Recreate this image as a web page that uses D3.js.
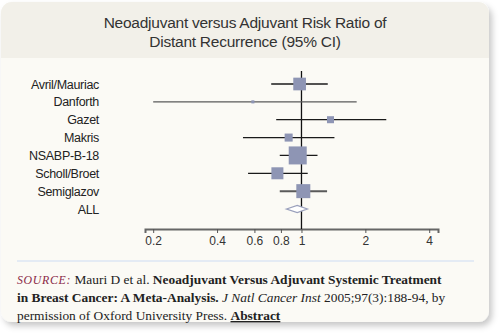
<!DOCTYPE html>
<html>
<head>
<meta charset="utf-8">
<script src="https://cdn.jsdelivr.net/npm/d3@7"></script>
<style>
  html, body { margin: 0; padding: 0; background: #ffffff; }
  svg { display: block; }
</style>
</head>
<body>
<svg width="500" height="334"></svg>
<script>
// Studies, risk ratios with 95% CI, and study weights (%)
const studies = ["Avril/Mauriac", "Danforth", "Gazet", "Makris", "NSABP-B-18", "Scholl/Broet", "Semiglazov"];
const rr      = [0.98, 0.59, 1.37, 0.87, 0.96, 0.77, 1.02];
const lower   = [0.72, 0.20, 0.76, 0.53, 0.79, 0.56, 0.79];
const upper   = [1.33, 1.82, 2.51, 1.43, 1.19, 1.07, 1.32];
const weight  = [17.0, 1.0, 5.2, 6.8, 34.2, 15.2, 20.7];

// Pooled estimate
const pooled = { label: "ALL", rr: 0.955, lower: 0.85, upper: 1.065 };

const tickValues = [0.2, 0.4, 0.6, 0.8, 1, 2, 4];
const titleLines = ["Neoadjuvant versus Adjuvant Risk Ratio of", "Distant Recurrence (95% CI)"];

const svg = d3.select("svg");

// Card with drop shadow
const defs = svg.append("defs");
const shadow = defs.append("filter").attr("id", "shadow")
  .attr("x", "-5%").attr("y", "-5%").attr("width", "115%").attr("height", "115%");
shadow.append("feDropShadow")
  .attr("dx", 3).attr("dy", 4).attr("stdDeviation", 3)
  .attr("flood-color", "#000").attr("flood-opacity", 0.22);

defs.append("clipPath").attr("id", "cardClip")
  .append("rect").attr("x", 1).attr("y", 2).attr("width", 488).attr("height", 320).attr("rx", 11);

svg.append("rect")
  .attr("x", 1).attr("y", 2).attr("width", 488).attr("height", 320).attr("rx", 11)
  .attr("fill", "#fbfaf5")
  .attr("filter", "url(#shadow)");

// Title band
svg.append("rect")
  .attr("clip-path", "url(#cardClip)")
  .attr("x", 0).attr("y", 0).attr("width", 490).attr("height", 58)
  .attr("fill", "#f2f0e9");

svg.append("g").selectAll("text")
  .data(titleLines)
  .join("text")
  .attr("x", 245)
  .attr("y", (d, i) => 28 + i * 19)
  .attr("text-anchor", "middle")
  .attr("font-family", "Liberation Sans, Arial, sans-serif")
  .attr("font-size", 15.5)
  .attr("letter-spacing", -0.25)
  .attr("fill", "#333")
  .text(d => d);

// Scales
const x = d3.scaleLog()
  .domain([0.183, 4.4])
  .range([145, 438]);

const rows = studies.concat([pooled.label]);
const y = d3.scalePoint()
  .domain(rows)
  .range([84, 209]);

const boxSize = d3.scaleSqrt()
  .domain([0, d3.max(weight)])
  .range([0, 18]);

// Axis
const axisY = 229;
const axis = svg.append("g")
  .attr("transform", `translate(0,${axisY})`)
  .call(d3.axisBottom(x).tickValues(tickValues).tickFormat(d3.format("")).tickSize(4).tickPadding(3));
axis.select(".domain").attr("stroke", "#666").attr("stroke-width", 2);
axis.selectAll(".tick line").attr("stroke", "#555");
axis.selectAll(".tick text")
  .attr("font-family", "Liberation Sans, Arial, sans-serif")
  .attr("font-size", 12)
  .attr("fill", "#333");

// Line of no effect
svg.append("line")
  .attr("x1", x(1)).attr("x2", x(1))
  .attr("y1", 71).attr("y2", axisY)
  .attr("stroke", "#111").attr("stroke-width", 1.3);

// Row labels
svg.append("g").selectAll("text")
  .data(rows)
  .join("text")
  .attr("x", 99)
  .attr("y", d => y(d) + 4.5)
  .attr("text-anchor", "end")
  .attr("font-family", "Liberation Sans, Arial, sans-serif")
  .attr("font-size", 12.5)
  .attr("letter-spacing", -0.3)
  .attr("fill", "#222")
  .text(d => d);

// Confidence intervals
const greyLines = ["Danforth", "Semiglazov"];
svg.append("g").selectAll("line")
  .data(studies)
  .join("line")
  .attr("x1", (d, i) => x(lower[i]))
  .attr("x2", (d, i) => x(upper[i]))
  .attr("y1", d => y(d))
  .attr("y2", d => y(d))
  .attr("stroke", d => greyLines.includes(d) ? "#5a5a5a" : "#1a1a1a")
  .attr("stroke-width", d => d === "Semiglazov" ? 2 : 1.3);

// Weighted point estimates
svg.append("g").selectAll("rect")
  .data(studies)
  .join("rect")
  .attr("x", (d, i) => x(rr[i]) - boxSize(weight[i]) / 2)
  .attr("y", (d, i) => y(d) - boxSize(weight[i]) / 2)
  .attr("width", (d, i) => boxSize(weight[i]))
  .attr("height", (d, i) => boxSize(weight[i]))
  .attr("fill", "#8e95b4");

// Pooled diamond
const py = y(pooled.label);
svg.append("path")
  .attr("d", `M${x(pooled.lower)},${py} L${x(pooled.rr)},${py - 3.5} L${x(pooled.upper)},${py} L${x(pooled.rr)},${py + 3.5} Z`)
  .attr("fill", "#fff")
  .attr("stroke", "#9aa0bc")
  .attr("stroke-width", 1.3);

// Separator
svg.append("line")
  .attr("x1", 17).attr("x2", 474)
  .attr("y1", 261).attr("y2", 261)
  .attr("stroke", "#dde6f3").attr("stroke-width", 1.3);

// Source note
const note = svg.append("text")
  .attr("font-family", "Liberation Serif, Times New Roman, serif")
  .attr("font-size", 13.4)
  .attr("fill", "#222");

const noteLines = [
  [
    { t: "SOURCE:", style: "italic", color: "#8a2846", size: 11.8, spacing: 0.7 },
    { t: " Mauri D et al. " },
    { t: "Neoadjuvant Versus Adjuvant Systemic Treatment", weight: "bold" }
  ],
  [
    { t: "in Breast Cancer: A Meta-Analysis.", weight: "bold" },
    { t: " " },
    { t: "J Natl Cancer Inst", style: "italic" },
    { t: " 2005;97(3):188-94, by" }
  ],
  [
    { t: "permission of Oxford University Press. " },
    { t: "Abstract", weight: "bold", underline: true }
  ]
];

noteLines.forEach((parts, li) => {
  parts.forEach((p, pi) => {
    const ts = note.append("tspan")
      .attr("xml:space", "preserve")
      .text(p.t);
    if (pi === 0) ts.attr("x", 17).attr("y", 284 + li * 18);
    if (p.weight) ts.attr("font-weight", p.weight);
    if (p.style) ts.attr("font-style", p.style);
    if (p.color) ts.attr("fill", p.color);
    if (p.size) ts.attr("font-size", p.size);
    if (p.spacing) ts.attr("letter-spacing", p.spacing);
    if (p.underline) ts.attr("text-decoration", "underline");
  });
});
</script>
</body>
</html>
